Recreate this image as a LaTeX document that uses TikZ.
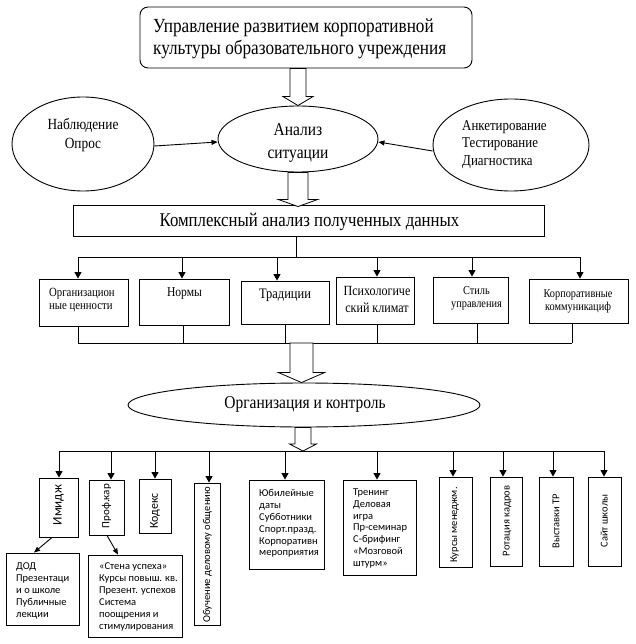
\documentclass[tikz,border=0pt]{standalone}
\usepackage{fontspec}
\setmainfont{Liberation Serif}
\newfontfamily\tnrc{Liberation Serif}[FakeStretch=0.86]
\newfontfamily\calibri{Carlito}
\usetikzlibrary{shapes.geometric,arrows.meta,calc}
\newcommand{\fsz}[2]{\fontsize{#1}{#2}\selectfont}
\newcommand{\blockarr}[5]{%
  \draw[blk] let \p1=(#1), \p2=(#2) in
   (\x1-#3pt,\y1) -- (\x1-#3pt,\y2+#5pt) -- (\x1-#4pt,\y2+#5pt) -- (\x1,\y2)
   -- (\x1+#4pt,\y2+#5pt) -- (\x1+#3pt,\y2+#5pt) -- (\x1+#3pt,\y1) -- cycle;}
\tikzset{
  ln/.style={line width=0.9pt},
  arr/.style={ln,-{Triangle[length=6.5pt,width=7pt]}},
  sarr/.style={ln,-{Triangle[length=6pt,width=5pt]}},
  blk/.style={line width=0.8pt, fill=white, line join=miter},
  ell/.style={ellipse, draw, ln, inner sep=0pt},
  rbox/.style={rectangle, draw, ln, inner sep=0pt},
  txt/.style={inner sep=0pt},
  stxt/.style={inner sep=0pt, font=\calibri\fsz{10.5}{11.8}, align=left},
  rtxt/.style={inner sep=0pt, rotate=90, font=\calibri\fsz{10.5}{12}},
}
\begin{document}
\begin{tikzpicture}[x=1pt,y=-1pt]
\fill[white] (0,0) rectangle (635,644);
\useasboundingbox (0,0) rectangle (635,644);

% ---------- top ----------
\node[rbox, rounded corners=8pt, minimum width=332, minimum height=61] (topbox) at (306,37.5) {};
\node[txt, anchor=north west, align=left, font=\tnrc\fsz{20}{22}] (toptxt) at (153,19)
  {Управление развитием корпоративной\\культуры образовательного учреждения};

\node[ell, minimum width=160, minimum height=66] (analiz) at (298,139) {};
\node[txt, anchor=north, align=center, font=\tnrc\fsz{18}{23}] (analiztxt) at (298,123)
  {Анализ\\ситуации};

\node[ell, minimum width=142, minimum height=94] (nabl) at (83,144) {};
\node[txt, anchor=north, align=center, font=\tnrc\fsz{15.5}{19}] (nabltxt) at (83,118)
  {Наблюдение\\Опрос};

\node[ell, minimum width=156, minimum height=92] (anket) at (511,145) {};
\node[txt, anchor=north west, align=left, font=\tnrc\fsz{15}{17.5}] (ankettxt) at (462,120)
  {Анкетирование\\Тестирование\\Диагностика};

\draw[sarr] ([yshift=-2pt]nabl.east) -- ([yshift=-3pt]analiz.west);
\draw[sarr] ([yshift=-6pt]anket.west) -- ([yshift=-3pt]analiz.east);

\blockarr{analiz.north |- topbox.south}{analiz.north}{8}{15}{9}

\node[rbox, minimum width=471, minimum height=31] (kompl) at (308.5,220.5) {};
\node[txt, anchor=base, font=\tnrc\fsz{19.5}{21}] (kompltxt) at (309.5,226.5)
  {Комплексный анализ полученных данных};

\coordinate (k2) at ($(analiz.south |- kompl.north)+(0,2)$);
\blockarr{analiz.south}{k2}{10}{19.5}{7}

% ---------- row of six ----------
\node[rbox, minimum width=89, minimum height=47] (b1) at (83.5,302.5) {};
\node[rbox, minimum width=90, minimum height=46] (b2) at (184,302) {};
\node[rbox, minimum width=88, minimum height=43] (b3) at (285,302.5) {};
\node[rbox, minimum width=78, minimum height=47] (b4) at (375,300.5) {};
\node[rbox, minimum width=75, minimum height=46] (b5) at (470.5,300) {};
\node[rbox, minimum width=99, minimum height=44] (b6) at (578.5,301) {};

\node[txt, anchor=north west, align=left, font=\tnrc\fsz{12.5}{13}] (t1) at (49,287.8)
  {Организацион\\ные ценности};
\node[txt, anchor=base, font=\tnrc\fsz{13.5}{14}] (t2) at (184.5,296) {Нормы};
\node[txt, anchor=base, font=\tnrc\fsz{14.5}{15}] (t3) at (285,298) {Традиции};
\node[txt, anchor=north, align=center, font=\tnrc\fsz{14}{17}] (t4) at (377,285.8)
  {Психологиче\\ский климат};
\node[txt, anchor=north, align=center, font=\tnrc\fsz{12}{13.5}] (t5) at (476.5,286.2)
  {Стиль\\управления};
\node[txt, anchor=north, align=center, font=\tnrc\fsz{12}{13}] (t6) at (578,289.2)
  {Корпоративные\\коммуникациф};

\coordinate (hk) at (296,257);
\draw[ln] (hk |- kompl.south) -- (hk);
\coordinate (hL) at (78,257);
\coordinate (hR) at (580,257);
\draw[ln] (hL) -- (hR);
\foreach \b/\x in {b1/78,b2/182,b3/277,b4/377,b5/472,b6/580}{
  \coordinate (u\b) at (\x,257);
  \draw[arr] (u\b) -- (u\b |- \b.north);
}
\foreach \b/\x in {b1/78,b2/183,b3/285,b4/377,b5/477,b6/572}{
  \coordinate (d\b) at (\x,343);
  \draw[ln] (d\b |- \b.south) -- (d\b);
}
\draw[ln] (db1) -- (db6);

% ---------- organisation ----------
\node[ell, minimum width=352, minimum height=44] (org) at (304,405) {};
\node[txt, anchor=base, font=\tnrc\fsz{18}{20}] (orgtxt) at (305,408.5) {Организация и контроль};

\coordinate (bl) at (301.5,343);
\blockarr{bl}{bl |- org.north}{11.5}{23}{10}

\coordinate (gL) at (59,451);
\coordinate (gR) at (604,451);
\coordinate (gm) at (303,451);
\draw[ln] (gL) -- (gR);
\blockarr{org.south -| gm}{gm}{8}{13.5}{7}

% ---------- bottom boxes ----------
\node[rbox, minimum width=39, minimum height=59] (c1) at (58.5,507.5) {};
\node[rbox, minimum width=35, minimum height=55] (c2) at (106.5,507.5) {};
\node[rbox, minimum width=32, minimum height=54] (c3) at (155,506) {};
\node[rbox, minimum width=26, minimum height=142] (c4) at (207,554) {};
\node[rbox, minimum width=75, minimum height=89] (c5) at (286.5,524.5) {};
\node[rbox, minimum width=73, minimum height=95] (c6) at (379.5,527.5) {};
\node[rbox, minimum width=33, minimum height=90] (c7) at (455.5,522) {};
\node[rbox, minimum width=32, minimum height=89] (c8) at (506,521.5) {};
\node[rbox, minimum width=34, minimum height=89] (c9) at (556,521.5) {};
\node[rbox, minimum width=33, minimum height=89] (c10) at (604.5,521.5) {};
\node[rbox, minimum width=73, minimum height=72] (c11) at (42.5,589) {};
\node[rbox, minimum width=94, minimum height=82] (c12) at (135,596) {};

\foreach \b/\x in {c1/59,c2/111,c3/155,c4/209,c5/285,c6/377,c7/453,c8/503,c9/553,c10/604}{
  \coordinate (v\b) at (\x,451);
  \draw[arr] (v\b) -- (v\b |- \b.north);
}

\node[rtxt, font=\calibri\fsz{13}{14}] (r1) at (58.5,505) {Имидж};
\node[rtxt, anchor=east, font=\calibri\fsz{11}{12}] (r2) at (106.5,484) {Проф.кар};
\node[rtxt, font=\calibri\fsz{12}{13}] (r3) at (155,511) {Кодекс};
\node[rtxt] (r4) at (207.5,555) {Обучение деловому общению};
\node[rtxt] (r7) at (454.5,525) {Курсы менеджм.};
\node[rtxt] (r8) at (507,521) {Ротация кадров};
\node[rtxt] (r9) at (556,521) {Выставки ТР};
\node[rtxt] (r10) at (604,521) {Сайт школы};

\node[stxt, anchor=north west] (s5) at (259,489.5)
  {Юбилейные\\даты\\Субботники\\Спорт.празд.\\Корпоративн\\мероприятия};
\node[stxt, anchor=north west] (s6) at (353,488.5)
  {Тренинг\\Деловая\\игра\\Пр-семинар\\С-брифинг\\«Мозговой\\штурм»};
\node[stxt, anchor=north west, font=\calibri\fsz{10.5}{12}] (s11) at (16,562)
  {ДОД\\Презентаци\\и о школе\\Публичные\\лекции};
\node[stxt, anchor=north west, font=\calibri\fsz{10.5}{12}] (s12) at (99,562)
  {«Стена успеха»\\Курсы повыш. кв.\\Презент. успехов\\Система\\поощрения и\\стимулирования};

\draw[sarr] ([xshift=-6.5pt]c1.south) -- ([xshift=-8.5pt]c11.north);
\draw[sarr] ([xshift=0.5pt]c2.south) -- ([xshift=-17pt]c12.north);
\end{tikzpicture}
\end{document}
